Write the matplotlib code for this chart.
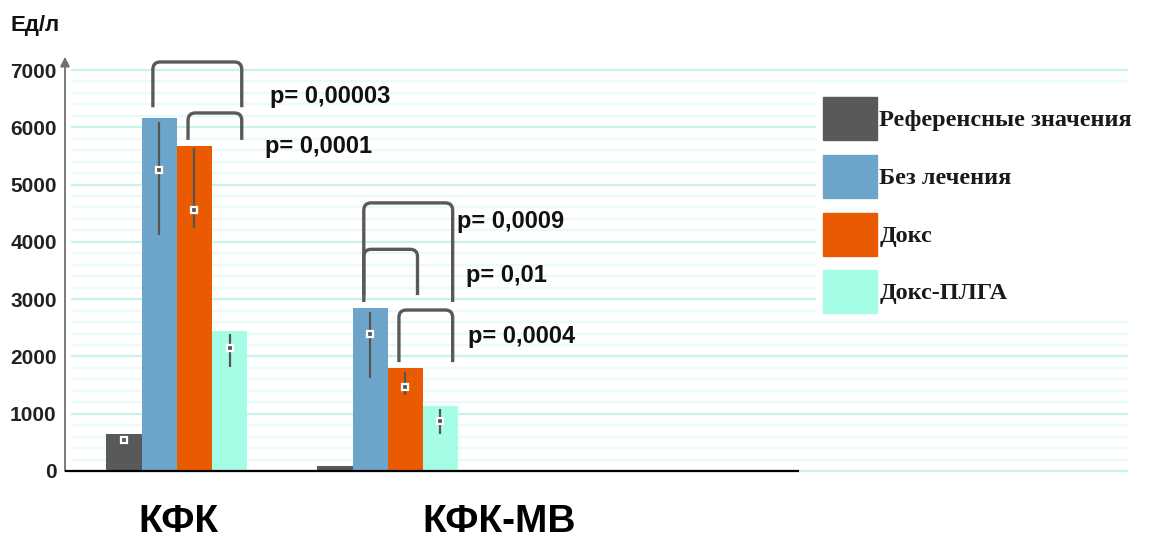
import numpy as np
import matplotlib.pyplot as plt
from matplotlib.path import Path
from matplotlib.patches import PathPatch

# Группы и серии
groups = ['КФК', 'КФК-МВ']
series = ['Референсные значения', 'Без лечения', 'Докс', 'Докс-ПЛГА']
colors = ['#595959', '#6ca5c9', '#ea5a00', '#a5fde6']

# Средние значения (Ед/л), по сериям: [КФК, КФК-МВ]
values = {
    'Референсные значения': [650, 90],
    'Без лечения': [6160, 2850],
    'Докс': [5680, 1800],
    'Докс-ПЛГА': [2440, 1140],
}
# Медиана и размах (нижняя, верхняя граница)
medians = {
    'Референсные значения': [540, np.nan],
    'Без лечения': [5250, 2390],
    'Докс': [4560, 1470],
    'Докс-ПЛГА': [2140, 870],
}
lows = {
    'Референсные значения': [420, np.nan],
    'Без лечения': [4120, 1620],
    'Докс': [4250, 1330],
    'Докс-ПЛГА': [1820, 650],
}
highs = {
    'Референсные значения': [600, np.nan],
    'Без лечения': [6100, 2780],
    'Докс': [5640, 1730],
    'Докс-ПЛГА': [2400, 1080],
}

# Попарные сравнения: группа, серия слева, серия справа, верх скобки, низ ножек, подпись
brackets = [
    (0, 1, 3, 7140, 6350, 'p= 0,00003'),
    (0, 2, 3, 6250, 5780, 'p= 0,0001'),
    (1, 1, 3, 4680, 2950, 'p= 0,0009'),
    (1, 1, 2, 3870, 3070, 'p= 0,01'),
    (1, 2, 3, 2810, 1900, 'p= 0,0004'),
]
# положение подписей p (x, y)
p_pos = [(0.44, 6530), (0.42, 5670), (1.33, 4360), (1.37, 3420), (1.38, 2340)]

yticks = [0, 1000, 2000, 3000, 4000, 5000, 6000, 7000]

fig = plt.figure(figsize=(11.5, 5.38), dpi=100)
ax = fig.add_axes([65 / 1150, 67 / 538, 1063 / 1150, 401 / 538])
x0, x1 = -0.53, 4.51
ax.set_xlim(x0, x1)
ax.set_ylim(0, 7000)

# фон: линейки
for y in np.arange(0, 7001, 200):
    major = y % 1000 == 0
    ax.hlines(y, -0.50, x1, color='#c8f2ea' if major else '#e9fbf7',
              lw=1.6, zorder=0, clip_on=False)

width = 1 / 6
offsets = (np.arange(len(series)) - 1.5) * width
xg = np.arange(len(groups))

for i, s in enumerate(series):
    xs = xg + offsets[i]
    ax.bar(xs, values[s], width=width, color=colors[i], zorder=2)
    for xi, lo, hi, md in zip(xs, lows[s], highs[s], medians[s]):
        if np.isnan(md):
            continue
        ax.vlines(xi, lo, hi, color='#555555', lw=1.6, zorder=3)
        ax.plot(xi, md, 's', ms=5, mfc='#555555', mec='white', mew=1.6, zorder=4)

# ось X и ось Y со стрелкой
ax.hlines(0, x0, 2.95, color='black', lw=1.6, zorder=5, clip_on=False)
ax.annotate('', xy=(x0, 7230), xytext=(x0, 0), annotation_clip=False,
            arrowprops=dict(arrowstyle='-|>', color='#707070', lw=1.3,
                            mutation_scale=14, shrinkA=0, shrinkB=0))

for sp in ax.spines.values():
    sp.set_visible(False)
ax.set_xticks([])
ax.set_yticks(yticks)
ax.set_yticklabels([str(t) for t in yticks], fontsize=15, fontweight='bold',
                   family='Liberation Sans', color='#222222')
ax.tick_params(axis='y', length=0, pad=6)

# скобки со скруглёнными углами
rx, ry = 0.035, 130
def bracket(xa, xb, top, bottom):
    verts = [(xa, bottom), (xa, top - ry), (xa, top), (xa + rx, top),
             (xb - rx, top), (xb, top), (xb, top - ry), (xb, bottom)]
    codes = [Path.MOVETO, Path.LINETO, Path.CURVE3, Path.CURVE3,
             Path.LINETO, Path.CURVE3, Path.CURVE3, Path.LINETO]
    ax.add_patch(PathPatch(Path(verts, codes), fill=False, edgecolor='#595959',
                           lw=2.4, zorder=6, clip_on=False, capstyle='butt'))

for (g, a, b, top, bot, lab), (tx, ty) in zip(brackets, p_pos):
    xa = g + offsets[a] - 0.03
    xb = g + offsets[b] + 0.058
    bracket(xa, xb, top, bot)
    ax.text(tx, ty, lab, ha='left', va='center', fontsize=17, fontweight='bold',
            family='Liberation Sans', color='#111111')

# подписи групп
for g, dx in zip(xg, [0.01, 0.53]):
    ax.text(g + dx, -890, groups[g], ha='center', va='center', fontsize=28,
            fontweight='bold', family='Liberation Sans', color='black',
            clip_on=False)

fig.text(10 / 1150, 1 - 25 / 538, 'Ед/л', ha='left', va='center', fontsize=16,
         fontweight='bold', family='Liberation Sans', color='#111111')

# легенда
handles = [plt.Rectangle((0, 0), 1, 1, color=c) for c in colors]
leg = ax.legend(handles, series, loc='upper left',
                bbox_to_anchor=(816 / 1150, 1 - 90 / 538),
                bbox_transform=fig.transFigure, frameon=True, fancybox=False,
                facecolor='white', edgecolor='none', framealpha=1,
                borderaxespad=0, borderpad=0.3, handlelength=2.2,
                handleheight=2.35, handletextpad=0.1, labelspacing=0.6,
                prop={'family': 'Liberation Serif', 'weight': 'bold', 'size': 17.5})
for t in leg.get_texts():
    t.set_color('#1a1a1a')
leg.set_zorder(7)

fig.savefig('out.png', dpi=100)
